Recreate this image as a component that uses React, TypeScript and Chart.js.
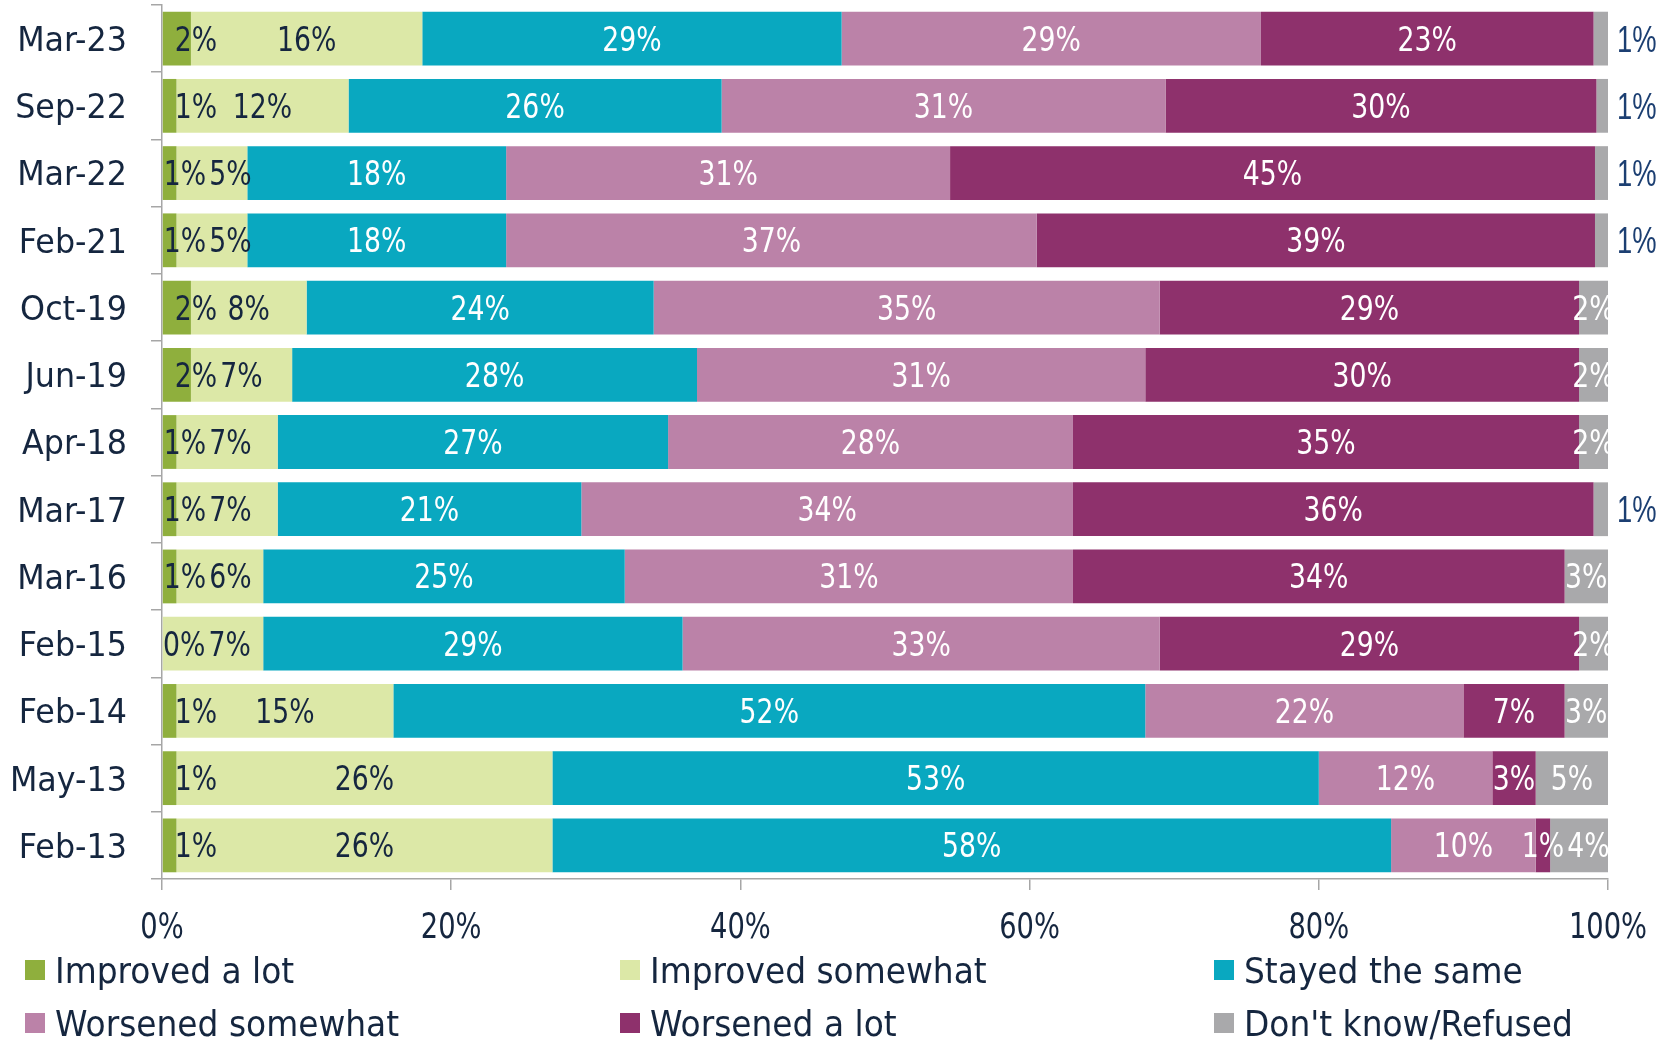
import React, { useEffect, useRef } from 'react';
import { Chart, registerables } from 'chart.js';

Chart.register(...registerables);

const categories = ['Mar-23', 'Sep-22', 'Mar-22', 'Feb-21', 'Oct-19', 'Jun-19', 'Apr-18', 'Mar-17', 'Mar-16', 'Feb-15', 'Feb-14', 'May-13', 'Feb-13'];
const seriesNames = ['Improved a lot', 'Improved somewhat', 'Stayed the same', 'Worsened somewhat', 'Worsened a lot', "Don't know/Refused"];
const improvedALot = [2, 1, 1, 1, 2, 2, 1, 1, 1, 0, 1, 1, 1];
const improvedSomewhat = [16, 11.9, 4.9, 4.9, 8, 7, 7, 7, 6, 7, 15, 26, 26];
const stayedSame = [29, 25.8, 17.9, 17.9, 24, 28, 27, 21, 25, 29, 52, 53, 58];
const worsenedSomewhat = [29, 30.7, 30.7, 36.7, 35, 31, 28, 34, 31, 33, 22, 12, 10];
const worsenedALot = [23, 29.8, 44.6, 38.6, 29, 30, 35, 36, 34, 29, 7, 3, 1];
const dontKnow = [1, 0.8, 0.9, 0.9, 2, 2, 2, 1, 3, 2, 3, 5, 4];
const xTickValues = [0, 20, 40, 60, 80, 100];
const xTickLabels = ['0%', '20%', '40%', '60%', '80%', '100%'];

const seriesColors = ['#8FAF3D', '#DCE8A7', '#09A8C0', '#BB82A8', '#8E316C', '#A9A9AB'];
const labelColors = ['#15263F', '#15263F', '#FFFFFF', '#FFFFFF', '#FFFFFF', '#FFFFFF'];
const NAVY = '#15263F';
const OUT_BLUE = '#1C3F72';
const AXIS = '#A6A6A6';
const FAMILY = "'DejaVu Sans', sans-serif";
const OUT_FAMILY = "'Liberation Sans', Arial, sans-serif";

function textWidth(ctx: CanvasRenderingContext2D, text: string, size: number, sx: number, family = FAMILY) {
  ctx.save();
  ctx.font = `${size}px ${family}`;
  const w = ctx.measureText(text).width * sx;
  ctx.restore();
  return w;
}

function drawText(ctx: CanvasRenderingContext2D, text: string, x: number, yMid: number, align: string, size: number, sx: number, color: string, family = FAMILY, capRatio = 0.729) {
  ctx.save();
  ctx.font = `${size}px ${family}`;
  ctx.fillStyle = color;
  ctx.textAlign = 'left';
  ctx.textBaseline = 'alphabetic';
  const w = ctx.measureText(text).width * sx;
  const left = align === 'left' ? x : align === 'right' ? x - w : x - w / 2;
  ctx.translate(left, yMid + size * capRatio / 2);
  ctx.scale(sx, 1);
  ctx.fillText(text, 0, 0);
  ctx.restore();
  return { left, right: left + w };
}

const DATA_SIZE = 33;
const DATA_SX = 0.81;
const GAP = 3;

const textPlugin = {
  id: 'customText',
  afterDatasetsDraw(chart: any) {
    const ctx: CanvasRenderingContext2D = chart.ctx;
    const area = chart.chartArea;
    const n = chart.data.datasets.length;
    const outside: Array<{ text: string; x: number; y: number }> = [];
    ctx.save();
    ctx.beginPath();
    ctx.rect(area.left, area.top, area.right - area.left, area.bottom - area.top);
    ctx.clip();
    for (let i = 0; i < categories.length; i++) {
      const segs = [] as Array<{ start: number; end: number; y: number; label: string; w: number; v: number }>;
      for (let d = 0; d < n; d++) {
        const el = chart.getDatasetMeta(d).data[i];
        const v = chart.data.datasets[d].data[i] as number;
        const label = Math.round(v) + '%';
        segs.push({
          start: Math.min(el.base, el.x),
          end: Math.max(el.base, el.x),
          y: el.y,
          label,
          v,
          w: textWidth(ctx, label, DATA_SIZE, DATA_SX),
        });
      }
      let prevRight = -Infinity;
      for (let d = 0; d < n; d++) {
        const s = segs[d];
        if (d === n - 1 && s.v < 1.5) {
          outside.push({ text: s.label, x: area.right + 9, y: s.y });
          continue;
        }
        let left: number;
        if (d === 0) {
          const nxt = segs[1];
          const nextLeft = (nxt.start + nxt.end) / 2 - nxt.w / 2;
          left = Math.min(s.start + 12, nextLeft - GAP - s.w);
          left = Math.max(left, s.start + 1);
        } else {
          left = (s.start + s.end) / 2 - s.w / 2;
          if (left < prevRight + GAP) left = prevRight + GAP;
        }
        const r = drawText(ctx, s.label, left, s.y, 'left', DATA_SIZE, DATA_SX, labelColors[d]);
        prevRight = r.right;
      }
    }
    ctx.restore();
    for (const o of outside) {
      drawText(ctx, o.text, o.x, o.y, 'left', 36, 0.76, OUT_BLUE, OUT_FAMILY, 0.716);
    }
  },
  afterDraw(chart: any) {
    const ctx: CanvasRenderingContext2D = chart.ctx;
    const yScale = chart.scales.y;
    const xScale = chart.scales.x;
    categories.forEach((c, i) => {
      const y = yScale.getPixelForValue(i);
      drawText(ctx, c, 127, y, 'right', 34, 0.935, NAVY);
    });
    xTickValues.forEach((v, i) => {
      const x = xScale.getPixelForValue(v);
      drawText(ctx, xTickLabels[i], x, 925, 'center', 36, 0.76, NAVY);
    });
    const colX = [25, 620, 1214];
    const rowY = [970, 1023];
    seriesNames.forEach((name, k) => {
      const cx = colX[k % 3];
      const cy = rowY[Math.floor(k / 3)];
      ctx.fillStyle = seriesColors[k];
      ctx.fillRect(cx, cy - 10, 20, 20);
      drawText(ctx, name, cx + 30, cy, 'left', 36, 0.913, NAVY);
    });
  },
};

export default function App() {
  const ref = useRef<HTMLCanvasElement | null>(null);
  useEffect(() => {
    if (!ref.current) return;
    const values = [improvedALot, improvedSomewhat, stayedSame, worsenedSomewhat, worsenedALot, dontKnow];
    const chart = new Chart(ref.current, {
      type: 'bar',
      data: {
        labels: categories,
        datasets: values.map((arr, k) => ({
          label: seriesNames[k],
          data: arr,
          backgroundColor: seriesColors[k],
          borderWidth: 0,
          categoryPercentage: 1,
          barPercentage: 0.8,
        })),
      },
      options: {
        indexAxis: 'y',
        responsive: false,
        animation: false,
        layout: { padding: { top: 5, right: 69, left: 0, bottom: 0 } },
        plugins: { legend: { display: false }, tooltip: { enabled: false } },
        scales: {
          x: {
            stacked: true,
            min: 0,
            max: 100,
            ticks: { display: false, stepSize: 20 },
            grid: { drawOnChartArea: false, drawTicks: true, tickLength: 11, color: AXIS, lineWidth: 1.5 },
            border: { color: AXIS, width: 1.5 },
            afterFit: (s: any) => { s.height = 161; },
          },
          y: {
            stacked: true,
            ticks: { display: false },
            grid: { drawOnChartArea: false, drawTicks: true, tickLength: 11, color: AXIS, lineWidth: 1.5, offset: true },
            border: { color: AXIS, width: 1.5 },
            afterFit: (s: any) => { s.width = 162; },
          },
        },
      } as any,
      plugins: [textPlugin],
    });
    return () => chart.destroy();
  }, []);
  return (
    <div style={{ position: 'absolute', left: 0, top: 0, width: 1677, height: 1040, background: '#fff' }}>
      <canvas ref={ref} width={1677} height={1040} style={{ display: 'block' }} />
    </div>
  );
}
